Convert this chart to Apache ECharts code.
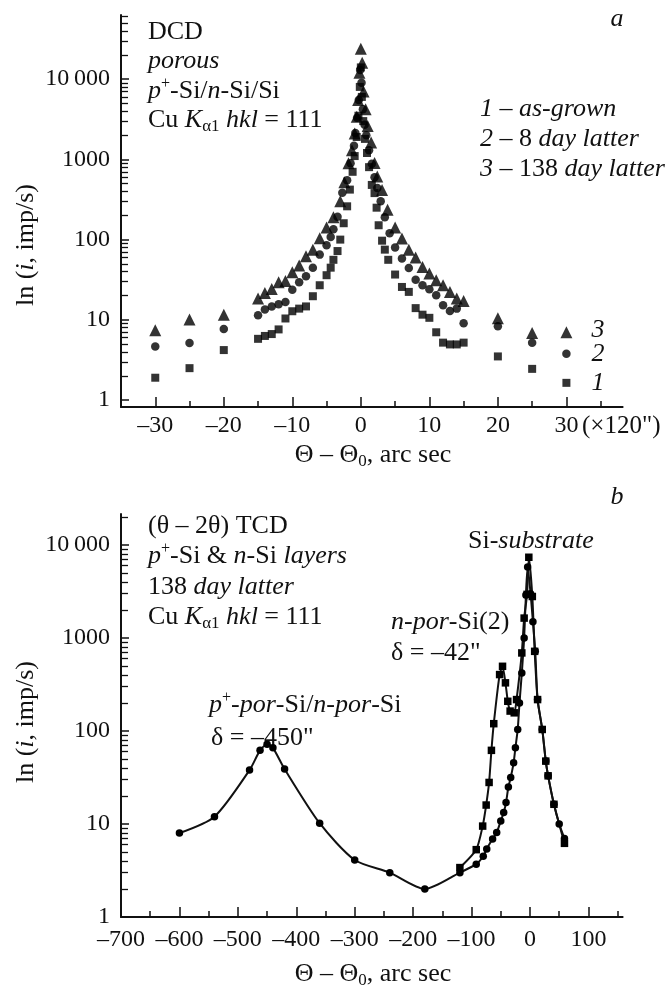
<!DOCTYPE html>
<html><head><meta charset="utf-8">
<script src="https://cdn.jsdelivr.net/npm/echarts@6/dist/echarts.min.js"></script>
<style>html,body{margin:0;padding:0;background:#fff}#c{width:672px;height:985px}</style>
</head><body><div id="c"></div>
<script>
// ---------- Panel a (DCD), x in units of 120" ----------
const aX1 = [-30,-25,-20,-15,-14,-13,-12,-11,-10,-9,-8,-7,-6,-5,-4.4,-4,-3.4,-3,-2.5,-2,-1.6,-1.2,-0.9,-0.6,-0.35,-0.15,0,0.15,0.35,0.6,0.9,1.2,1.6,2,2.3,2.6,3.1,3.5,4,5,6,7,8,9,10,11,12,13,14,15,20,25,30];
const aY1 = [1.9,2.5,4.2,5.8,6.3,6.65,7.6,10.4,12.8,13.8,14.7,19.7,27,36,44.7,56,72,100,160,260,420,700,1100,1900,3500,8000,14000,6000,3000,1800,1200,800,480,380,250,151,97,75,56,36.7,25.7,22.3,14,11.6,10.6,7.0,5.2,4.94,4.94,5.2,3.5,2.45,1.64];
const aX2 = [-30,-25,-20,-15,-14,-13,-12,-11,-10,-9,-8,-7,-6,-5,-4.4,-4,-3.4,-2.7,-2,-1.5,-1,-0.8,-0.55,-0.3,-0.1,0.1,0.3,0.55,0.8,1.2,1.6,2,2.4,2.9,3.5,4.2,5,6,7,8,9,10,11,12,13,14,15,20,25,30];
const aY2 = [4.66,5.13,7.67,11.4,13.5,14.7,15.6,16.7,23.8,29.4,35,44.5,65,85,108,135,193,384,550,895,1480,2130,3300,5500,13000,9000,4200,2700,2000,1300,880,600,440,300,190,120,79.6,58,44.4,31.7,27,24,20.2,15.2,12.9,13.8,9.1,8.3,5.2,3.78];
const aX3 = [-30,-25,-20,-15,-14,-13,-12,-11,-10,-9,-8,-7,-6,-5,-4,-3,-2.4,-1.8,-1.3,-0.9,-0.6,-0.4,-0.2,0,0.2,0.4,0.7,1,1.5,2,2.4,3.1,3.9,5,6,7,8,9,10,11,12,13,14,15,20,25,30];
const aY3 = [7.4,10.1,11.6,18.4,21.6,24.3,29.4,30.5,39.3,47.6,62,75,104,142,190,300,520,895,1300,2100,3400,5500,12000,24000,16000,7000,4200,2600,1620,900,610,415,235,142,103,75,60,45.7,37.8,31.2,27,22.3,18.4,17.2,10.5,6.84,7.0];

// ---------- Panel b (TCD), x in arc sec ----------
const bX1 = [-600,-540,-480,-462,-450,-440,-420,-360,-300,-240,-180,-120,-92,-80,-74,-64,-57,-50,-45,-41,-37,-33,-28,-25,-21,-18,-14,-10,-7,-4,1,5,9,13,21,27,31,41,50,59];
const bY1 = [8.0,12,38,62,72,66,39,10.2,4.1,3.0,2.0,3.0,3.7,4.5,5.4,6.9,8.1,10.8,13.3,17,25,31.6,45.7,66,104,200,420,1000,2900,5800,3000,1500,720,218,104,47.5,33,16.3,10,7.0];
const bX2 = [-120,-92,-81,-75,-70,-66,-62,-52,-47,-42,-38,-34,-27,-23,-14,-10,-5,-2,4,8,13,21,27,31,41,59];
const bY2 = [3.4,5.3,9.5,16,28,62,120,405,497,330,209,164,157,218,692,1640,2950,7400,2800,720,218,104,47.5,33,16.3,6.2];

// ---------- tick values ----------
const aXMajor = [-30,-20,-10,0,10,20,30];
const aXMinor = [-30,-25,-20,-15,-10,-5,0,5,10,15,20,25,30,35];
const bXMajor = [-700,-600,-500,-400,-300,-200,-100,0,100];
const bXMinor = [-700,-650,-600,-550,-500,-450,-400,-350,-300,-250,-200,-150,-100,-50,0,50,100,150];
const yMajor = [1,10,100,1000,10000];
const aYMinor = [2,3,4,5,6,7,8,9,20,30,40,50,60,70,80,90,200,300,400,500,600,700,800,900,2000,3000,4000,5000,6000,7000,8000,9000,20000,30000,40000,50000,60000];
const bYMinor = [2,3,4,5,6,7,8,9,20,30,40,50,60,70,80,90,200,300,400,500,600,700,800,900,2000,3000,4000,5000,6000,7000,8000,9000,20000];

const F = '"Liberation Serif","Times New Roman",serif';
const C = '#111';
const pair = (xs, ys) => xs.map((v, i) => [v, ys[i]]);
const dash = v => String(v).replace('-', '\u2013');
const yFmt = v => { const r = Math.round(v); return r === 10000 ? '10\u2009000' : String(r); };

const rich = {
  n: {fontFamily: F, fontSize: 26, color: C, lineHeight: 30},
  i: {fontFamily: F, fontSize: 26, fontStyle: 'italic', color: C, lineHeight: 30},
  sup: {fontFamily: F, fontSize: 16, color: C, lineHeight: 16, verticalAlign: 'top'},
  sub: {fontFamily: F, fontSize: 17, color: C, lineHeight: 17, verticalAlign: 'bottom'},
  t: {fontFamily: F, fontSize: 25, color: C, lineHeight: 28}
};
function T(x, y, text, align, rot) {
  return {type: 'text', x: x, y: y, rotation: rot || 0, silent: true,
    style: {text: text, rich: rich, align: align || 'left', verticalAlign: 'middle', fill: C, font: '26px ' + F}};
}

function xAxes(grid, min, max, minor, major, margin) {
  return [
    {type: 'value', gridIndex: grid, min: min, max: max, position: 'bottom',
     axisLine: {onZero: false, lineStyle: {color: C, width: 2}},
     axisTick: {inside: true, length: 6, customValues: minor, lineStyle: {color: C, width: 1.5}},
     axisLabel: {show: false}, splitLine: {show: false}},
    {type: 'value', gridIndex: grid, min: min, max: max, position: 'bottom',
     axisLine: {show: false, onZero: false},
     axisTick: {inside: true, length: 10, customValues: major, lineStyle: {color: C, width: 1.5}},
     axisLabel: {customValues: major, formatter: dash, fontFamily: F, fontSize: 24, color: C, margin: margin},
     splitLine: {show: false}}
  ];
}
function yAxes(grid, min, max, minor) {
  return [
    {type: 'log', gridIndex: grid, min: min, max: max, position: 'left',
     axisLine: {onZero: false, lineStyle: {color: C, width: 2}},
     axisTick: {inside: true, length: 8, customValues: yMajor, lineStyle: {color: C, width: 1.5}},
     axisLabel: {customValues: yMajor, formatter: yFmt, fontFamily: F, fontSize: 24, color: C, margin: 11},
     splitLine: {show: false}},
    {type: 'log', gridIndex: grid, min: min, max: max, position: 'left',
     axisLine: {show: false, onZero: false},
     axisTick: {inside: true, length: 7, customValues: minor, lineStyle: {color: C, width: 1.3}},
     axisLabel: {show: false}, splitLine: {show: false}}
  ];
}

const option = {
  animation: false,
  backgroundColor: '#fff',
  grid: [
    {left: 121, right: 49.4, top: 15, height: 392},
    {left: 121, right: 49.4, top: 514, height: 403}
  ],
  xAxis: [].concat(xAxes(0, -35, 38.2, aXMinor, aXMajor, 7), xAxes(1, -700, 158.5, bXMinor, bXMajor, 11)),
  yAxis: [].concat(yAxes(0, 0.82, 63000, aYMinor), yAxes(1, 1, 21600, bYMinor)),
  series: [
    {type: 'scatter', name: '3', xAxisIndex: 0, yAxisIndex: 0, data: pair(aX3, aY3), symbol: 'triangle', symbolSize: 12, itemStyle: {color: '#000'}},
    {type: 'scatter', name: '2', xAxisIndex: 0, yAxisIndex: 0, data: pair(aX2, aY2), symbol: 'circle', symbolSize: 8.5, itemStyle: {color: '#000'}},
    {type: 'scatter', name: '1', xAxisIndex: 0, yAxisIndex: 0, data: pair(aX1, aY1), symbol: 'rect', symbolSize: 8, itemStyle: {color: '#000'}},
    {type: 'line', name: 'wide', xAxisIndex: 2, yAxisIndex: 2, data: pair(bX1, bY1), symbol: 'circle', symbolSize: 7.5, smooth: 0.25,
     lineStyle: {color: C, width: 2}, itemStyle: {color: '#000'}},
    {type: 'line', name: 'narrow', xAxisIndex: 2, yAxisIndex: 2, data: pair(bX2, bY2), symbol: 'rect', symbolSize: 7.5, smooth: 0.2,
     lineStyle: {color: C, width: 2}, itemStyle: {color: '#000'}}
  ],
  graphic: [
    // panel a
    T(148, 32, '{n|DCD}'),
    T(148, 61, '{i|porous}'),
    T(148, 91, '{i|p}{sup|+}{n|-Si/}{i|n}{n|-Si/Si}'),
    T(148, 120, '{n|Cu }{i|K}{sub|\u03b11}{n| }{i|hkl}{n| = 111}'),
    T(617, 19, '{i|a}', 'center'),
    T(480, 109, '{i|1 \u2013 as-grown}'),
    T(480, 139, '{i|2 }{n|\u2013 8 }{i|day latter}'),
    T(480, 169, '{i|3 }{n|\u2013 138 }{i|day latter}'),
    T(598, 330, '{i|3}', 'center'),
    T(598, 354, '{i|2}', 'center'),
    T(598, 383, '{i|1}', 'center'),
    T(582, 426, '{t|(\u00d7120")}'),
    T(26, 245, '{n|ln (}{i|i}{n|, imp/s)}', 'center', Math.PI / 2),
    T(373, 455, '{n|\u0398 \u2013 \u0398}{sub|0}{n|, arc sec}', 'center'),
    // panel b
    T(617, 497, '{i|b}', 'center'),
    T(148, 526, '{n|(\u03b8 \u2013 2\u03b8) TCD}'),
    T(148, 556, '{i|p}{sup|+}{n|-Si & }{i|n}{n|-Si }{i|layers}'),
    T(148, 587, '{n|138 }{i|day latter}'),
    T(148, 617, '{n|Cu }{i|K}{sub|\u03b11}{n| }{i|hkl}{n| = 111}'),
    T(468, 541, '{n|Si-}{i|substrate}'),
    T(391, 622, '{i|n-por}{n|-Si(2)}'),
    T(391, 653, '{n|\u03b4 = \u201342"}'),
    T(209, 705, '{i|p}{sup|+}{i|-por}{n|-Si/}{i|n-por}{n|-Si}'),
    T(211, 738, '{n|\u03b4 = \u2013450"}'),
    T(26, 722, '{n|ln (}{i|i}{n|, imp/s)}', 'center', Math.PI / 2),
    T(373, 974, '{n|\u0398 \u2013 \u0398}{sub|0}{n|, arc sec}', 'center')
  ]
};
const chart = echarts.init(document.getElementById('c'), null, {renderer: 'canvas'});
chart.setOption(option);
</script>
</body></html>
